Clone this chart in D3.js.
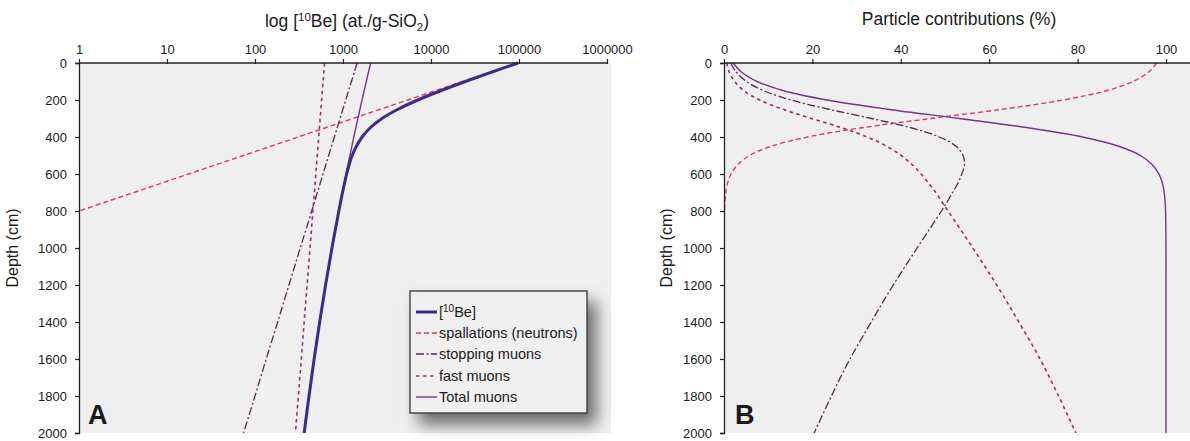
<!DOCTYPE html>
<html><head><meta charset="utf-8">
<script src="https://cdn.jsdelivr.net/npm/d3@7"></script>
<style>
html,body{margin:0;padding:0;background:#fff;}
svg text{font-family:"Liberation Sans",Arial,Helvetica,sans-serif;fill:#1a1a1a;}
</style></head>
<body>
<svg id="chart" width="1190" height="441"></svg>
<script>
// ---- data ----
const depths = [0,50,100,150,200,250,300,350,400,450,500,550,600,650,700,750,800,1000,1200,1400,1600,1800,2000];
const depthsSpall = [0,50,100,150,200,250,300,350,400,450,500,550,600,650,700,750,800];

// Panel A: concentrations (at./g-SiO2)
const be10 = [97500,48600,24600,12860,7080,4210,2770,2040,1650,1420,1270,1175,1100,1040,988,941,897,749,634,543,470,411,362];
const spallA = [95500,46650,22800,11130,5430,2650,1300,633,309,151,74,36,17.6,8.6,4.2,2.05,1];
const stoppingA = [1445,1342,1246,1157,1074,997,926,859,798,741,688,639,593,551,511,475,441,327,243,181,134,100,74];
const fastA = [617,605,594,582,571,561,550,540,530,520,510,500,491,482,473,464,455,422,391,362,336,311,288];
const totalA = [2062,1947,1840,1739,1645,1558,1476,1399,1328,1261,1198,1139,1084,1033,984,939,896,749,634,543,470,411,362];

// Panel B: contributions (%)
const spallB = [97.9,96.0,92.5,86.5,76.7,63.0,46.8,31.2,18.9,10.7,5.8,3.1,1.6,0.8,0.4,0.2,0.1];
const stoppingB = [1.5,2.8,5.1,9.0,15.2,23.7,33.4,42.3,48.7,52.5,54.1,54.4,53.8,52.9,51.7,50.5,49.2,43.7,38.3,33.3,28.5,24.3,20.4];
const fastB = [0.6,1.2,2.4,4.5,8.1,13.3,19.8,26.6,32.4,36.8,40.1,42.6,44.6,46.3,47.9,49.3,50.7,56.3,61.7,66.7,71.5,75.7,79.6];
const totalB = [2.1,4.0,7.5,13.5,23.3,37.0,53.2,68.8,81.1,89.3,94.2,96.9,98.4,99.2,99.6,99.8,99.9,100,100,100,100,100,100];

const logTicks = [1,10,100,1000,10000,100000,1000000];
const pctTicks = [0,20,40,60,80,100];
const depthTicks = [0,200,400,600,800,1000,1200,1400,1600,1800,2000];

const legendLabels = ["[10Be]","spallations (neutrons)","stopping muons","fast muons","Total muons"];

// ---- styles ----
const sty = {
  be10:  {color:"#3a2b8c", width:3,   dash:null},
  spall: {color:"#e5336b", width:1.4, dash:"5,3"},
  stop:  {color:"#5a2852", width:1.3, dash:"8,2.5,2,2.5"},
  fast:  {color:"#9a2c6c", width:1.6, dash:"3.5,3.5"},
  total: {color:"#74358a", width:1.4, dash:null}
};

const svg = d3.select("#chart");
const defs = svg.append("defs");
const f = defs.append("filter").attr("id","shadow").attr("x","-30%").attr("y","-30%").attr("width","170%").attr("height","170%");
f.append("feDropShadow").attr("dx",9).attr("dy",11).attr("stdDeviation",8).attr("flood-color","#000").attr("flood-opacity",0.55);

const yTop = 63, yBot = 433;
const y = d3.scaleLinear().domain([0,2000]).range([yTop,yBot]);

function drawYAxis(x0, labelX){
  const g = svg.append("g").attr("transform",`translate(${x0},0)`)
    .call(d3.axisLeft(y).tickValues(depthTicks).tickSize(4).tickPadding(8).tickFormat(d3.format("d")));
  g.select(".domain").attr("stroke","#222").attr("stroke-width",1.3);
  g.selectAll(".tick line").attr("stroke","#222").attr("stroke-width",1.2);
  g.selectAll(".tick text").attr("font-size",13).attr("fill","#1a1a1a").style("font-family",'"Liberation Sans",Arial,sans-serif');
  svg.append("text").attr("transform",`translate(${labelX},${(yTop+yBot)/2}) rotate(-90)`)
    .attr("text-anchor","middle").attr("font-size",16).text("Depth (cm)");
}

function drawXAxis(scale, ticks, fmt, x0, x1){
  const g = svg.append("g").attr("transform",`translate(0,${yTop})`)
    .call(d3.axisTop(scale).tickValues(ticks).tickSize(4).tickPadding(5).tickFormat(fmt));
  g.select(".domain").remove();
  g.append("line").attr("x1",x0).attr("x2",x1).attr("y1",0).attr("y2",0).attr("stroke","#222").attr("stroke-width",1.3);
  g.selectAll(".tick line").attr("stroke","#222").attr("stroke-width",1.2).attr("y2",-4).attr("y1",1);
  g.selectAll(".tick text").attr("font-size",13).attr("fill","#1a1a1a").style("font-family",'"Liberation Sans",Arial,sans-serif');
}

function drawLine(xs, ys, vals, dps, s, clipId){
  const line = d3.line().x((d,i)=>xs(vals[i])).y((d,i)=>ys(dps[i])).curve(d3.curveCatmullRom.alpha(0.5));
  svg.append("path").datum(dps).attr("d",line).attr("fill","none")
    .attr("stroke",s.color).attr("stroke-width",s.width)
    .attr("stroke-dasharray",s.dash).attr("clip-path",`url(#${clipId})`);
}

// ---------------- Panel A ----------------
const xA = d3.scaleLog().domain([1,1000000]).range([79,607]);
svg.append("rect").attr("x",79).attr("y",yTop).attr("width",532).attr("height",yBot-yTop).attr("fill","#efefef");
defs.append("clipPath").attr("id","clipA").append("rect").attr("x",79).attr("y",yTop-2).attr("width",532).attr("height",yBot-yTop+2);

drawLine(xA, y, spallA, depthsSpall, sty.spall, "clipA");
drawLine(xA, y, stoppingA, depths, sty.stop, "clipA");
drawLine(xA, y, fastA, depths, sty.fast, "clipA");
drawLine(xA, y, totalA, depths, sty.total, "clipA");
drawLine(xA, y, be10, depths, sty.be10, "clipA");

drawXAxis(xA, logTicks, d3.format("d"), 79, 607);
drawYAxis(79, 18);

const tA = svg.append("text").attr("x",347).attr("y",27).attr("text-anchor","middle").attr("font-size",17.5);
tA.append("tspan").text("log [");
tA.append("tspan").attr("font-size",11.5).attr("dy",-6).text("10");
tA.append("tspan").attr("dy",6).text("Be] (at./g-SiO");
tA.append("tspan").attr("font-size",11.5).attr("dy",4).text("2");
tA.append("tspan").attr("dy",-4).text(")");

svg.append("text").attr("x",88).attr("y",424).attr("font-size",27).attr("font-weight","bold").attr("fill","#111").text("A");

// legend
const lg = svg.append("g").attr("transform","translate(410,291)");
lg.append("rect").attr("width",177).attr("height",122).attr("fill","#f0f0f0")
  .attr("stroke","#333").attr("stroke-width",1.3).attr("filter","url(#shadow)");
const legStyles = [sty.be10, sty.spall, sty.stop, sty.fast, sty.total];
const rowY = [21,42,63,85,106];
legendLabels.forEach((lab,i)=>{
  const s = legStyles[i];
  lg.append("line").attr("x1",6).attr("x2",27).attr("y1",rowY[i]).attr("y2",rowY[i])
    .attr("stroke",s.color).attr("stroke-width",s.width).attr("stroke-dasharray",s.dash);
  const t = lg.append("text").attr("x",29).attr("y",rowY[i]+5).attr("font-size",14.5);
  if(i===0){
    t.append("tspan").text("[");
    t.append("tspan").attr("font-size",10).attr("dy",-5).text("10");
    t.append("tspan").attr("dy",5).text("Be]");
  } else t.text(lab);
});

// ---------------- Panel B ----------------
const xB = d3.scaleLinear().domain([0,100]).range([724,1166]);
svg.append("rect").attr("x",724).attr("y",yTop).attr("width",466).attr("height",yBot-yTop).attr("fill","#efefef");
defs.append("clipPath").attr("id","clipB").append("rect").attr("x",724).attr("y",yTop-2).attr("width",466).attr("height",yBot-yTop+2);

drawLine(xB, y, spallB, depthsSpall, sty.spall, "clipB");
drawLine(xB, y, stoppingB, depths, sty.stop, "clipB");
drawLine(xB, y, fastB, depths, sty.fast, "clipB");
drawLine(xB, y, totalB, depths, sty.total, "clipB");

drawXAxis(xB, pctTicks, d3.format("d"), 724, 1190);
drawYAxis(724, 672);

svg.append("text").attr("x",959).attr("y",25).attr("text-anchor","middle").attr("font-size",17.5).text("Particle contributions (%)");
svg.append("text").attr("x",735).attr("y",424).attr("font-size",27).attr("font-weight","bold").attr("fill","#111").text("B");
</script>
</body></html>
